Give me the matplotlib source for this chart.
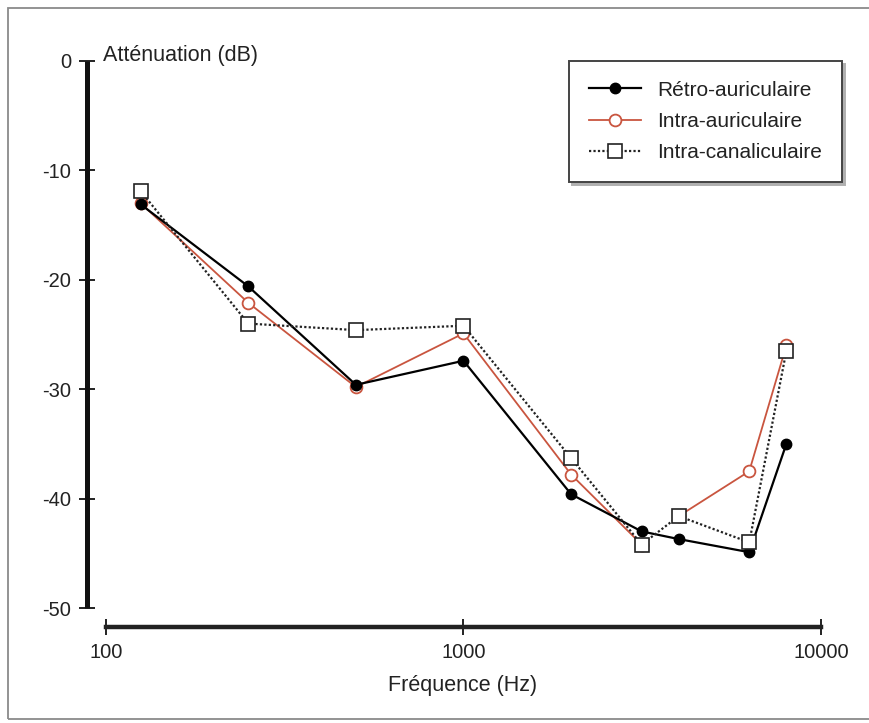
import matplotlib
matplotlib.use("Agg")
import matplotlib.pyplot as plt
from matplotlib.patches import Rectangle

plt.rcParams['font.family'] = ['Liberation Sans', 'DejaVu Sans']

freqs = [125, 250, 500, 1000, 2000, 3150, 4000, 6300, 8000]
retro = [-13.1, -20.6, -29.6, -27.4, -39.6, -43.0, -43.7, -44.9, -35.0]
intra_aur = [-13.0, -22.1, -29.8, -24.9, -37.8, -44.2, -41.6, -37.5, -26.0]
intra_can = [-11.9, -24.0, -24.6, -24.2, -36.3, -44.2, -41.6, -44.0, -26.5]

series_labels = ["Rétro-auriculaire", "Intra-auriculaire", "Intra-canaliculaire"]
yticks = [0, -10, -20, -30, -40, -50]
xticks = [100, 1000, 10000]
xtick_labels = ["100", "1000", "10000"]

W, H = 870, 723
fig = plt.figure(figsize=(W / 100, H / 100), dpi=100)
fig.patch.set_facecolor('white')

# outer frame
fig.add_artist(Rectangle((8 / W, 1 - 719 / H), (W + 20 - 8) / W, (719 - 8) / H,
                         transform=fig.transFigure, fill=False,
                         edgecolor='#8a8a8a', linewidth=1.3, zorder=0))

ax = fig.add_axes([106 / W, 1 - 608 / H, (821 - 106) / W, (608 - 61) / H])
ax.set_xscale('log')
ax.set_xlim(100, 10000)
ax.set_ylim(-50, 0)

red = '#c9553f'
txt = '#222222'

# Intra-auriculaire (red), drawn in two pieces as in the original
ax.plot(freqs[:6], intra_aur[:6], color=red, lw=1.3, marker='o', ms=8.5,
        mfc='white', mec=red, mew=1.3, zorder=2, label=series_labels[1])
ax.plot(freqs[6:], intra_aur[6:], color=red, lw=1.3, marker='o', ms=8.5,
        mfc='white', mec=red, mew=1.3, zorder=2)
# Rétro-auriculaire (black, filled)
ax.plot(freqs, retro, color='black', lw=1.6, marker='o', ms=7.5,
        mfc='black', mec='black', zorder=3, label=series_labels[0])
# Intra-canaliculaire (dotted, squares)
ax.plot(freqs, intra_can, color='#222222', lw=1.6, ls=(0, (1, 1)), marker='s',
        ms=9.5, mfc='white', mec='#222222', mew=1.2, zorder=4, label=series_labels[2])

for s in ['top', 'right']:
    ax.spines[s].set_visible(False)
ax.spines['left'].set_position(('outward', 13.7))
ax.spines['bottom'].set_position(('outward', 13.7))
ax.spines['left'].set_linewidth(3.6)
ax.spines['bottom'].set_linewidth(3.2)
ax.spines['left'].set_color('#111111')
ax.spines['bottom'].set_color('#222222')
ax.spines['left'].set_capstyle('butt')

ax.set_yticks(yticks)
ax.set_yticklabels([str(v) for v in yticks])
ax.set_xticks(xticks)
ax.set_xticklabels(xtick_labels)
ax.xaxis.set_minor_locator(matplotlib.ticker.NullLocator())
ax.tick_params(axis='both', direction='inout', length=11.5, width=1.4,
               pad=5.8, labelsize=14.5, labelcolor=txt, color='#222222')

ax.set_facecolor('none')

fig.text(103 / W, 1 - 61.5 / H, "Atténuation (dB)", fontsize=15.5, color=txt,
         ha='left', va='baseline')
fig.text(463 / W, 1 - 685 / H, "Fréquence (Hz)", fontsize=15.5, color=txt,
         ha='center', va='center')

h, l = ax.get_legend_handles_labels()
order = [l.index(n) for n in series_labels]
leg = fig.legend([h[i] for i in order], [l[i] for i in order],
                 loc='upper right', bbox_to_anchor=(842 / W, 1 - 61 / H),
                 bbox_transform=fig.transFigure, fontsize=15,
                 frameon=True, fancybox=False, shadow={'color': '#b0b0b0', 'alpha': 1},
                 handlelength=2.5, handletextpad=0.8, labelspacing=0.58,
                 borderpad=0.95, borderaxespad=0, labelcolor=txt)
leg.get_frame().set_edgecolor('#444444')
leg.get_frame().set_linewidth(1.4)

fig.savefig('out.png', dpi=100, facecolor='white')
